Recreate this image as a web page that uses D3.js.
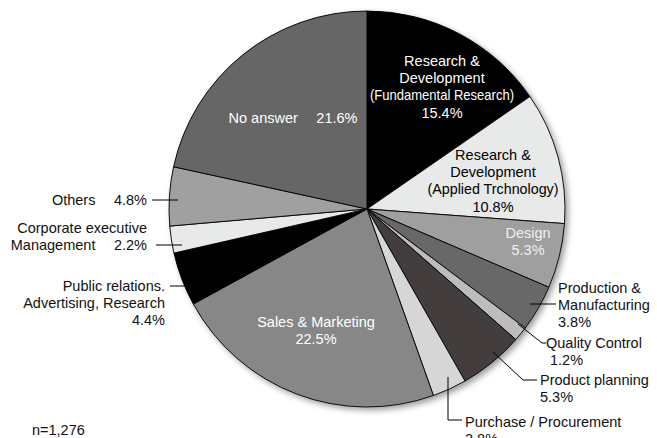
<!DOCTYPE html>
<html><head><meta charset="utf-8">
<script src="https://cdn.jsdelivr.net/npm/d3@7"></script>
<style>body{margin:0;background:#fff}svg{display:block}text{font-family:"Liberation Sans",Arial,sans-serif;font-size:14.5px}</style>
</head><body><svg id="c" width="657" height="438"></svg>
<script>
const categories = ["Research & Development (Fundamental Research)","Research & Development (Applied Trchnology)","Design","Production & Manufacturing","Quality Control","Product planning","Purchase / Procurement","Sales & Marketing","Public relations. Advertising, Research","Corporate executive Management","Others","No answer"];
const values = [15.4,10.8,5.3,3.8,1.2,5.3,2.8,22.5,4.4,2.2,4.8,21.6];
const colors = ["#000000","#e8e9e9","#9f9f9f","#686868","#bcbcbc","#433d3d","#d6d6d6","#878787","#000000","#e8e9e9","#a0a0a0","#666666"];
const sampleNote = "n=1,276";

const svg = d3.select("#c");
const cx = 367, cy = 209, R = 198;
const defs = svg.append("defs");
const f = defs.append("filter").attr("id","sh").attr("x","-20%").attr("y","-20%").attr("width","150%").attr("height","150%");
f.append("feDropShadow").attr("dx",3).attr("dy",3).attr("stdDeviation",3).attr("flood-color","#000").attr("flood-opacity",0.4);

const g = svg.append("g").attr("transform",`translate(${cx},${cy})`);
const pie = d3.pie().sort(null).value(d=>d)(values);
const arc = d3.arc().innerRadius(0).outerRadius(R);
g.append("circle").attr("r",R).attr("fill","#888").attr("filter","url(#sh)");
g.selectAll("path.s").data(pie).join("path").attr("class","s")
 .attr("d",arc).attr("fill",(d,i)=>colors[i]).attr("stroke","#000").attr("stroke-width",0.9);

// inner labels
const inner = [
 {lines:["Research &","Development","(Fundamental Research)","15.4%"], x:442, y:66, fill:"#fff", fit:{2:144}},
 {lines:["Research &","Development","(Applied Trchnology)","10.8%"], x:493, y:160, fill:"#000", fit:{2:131}},
 {lines:["Design","5.3%"], x:528, y:238, fill:"#f0f0f0"},
 {lines:["Sales & Marketing","22.5%"], x:316, y:327, fill:"#fff"},
 {lines:["No answer\u2003 21.6%"], x:293, y:123, fill:"#fff"}
];
inner.forEach(L=>{
  const t = svg.append("text").attr("text-anchor","middle").attr("fill",L.fill);
  L.lines.forEach((s,k)=>{
    const ts = t.append("tspan").attr("x",L.x).attr("y",L.y+k*17.2).text(s);
    if(L.fit && L.fit[k]) ts.attr("textLength",L.fit[k]).attr("lengthAdjust","spacingAndGlyphs");
  });
});

// outer labels with leaders
const outer = [
 {lines:["Others\u2003 4.8%"], x:147, y:205, anchor:"end", leader:[[152,200],[178,200]]},
 {lines:["Corporate executive","Management\u2003 2.2%"], x:147, y:233, anchor:"end", leader:[[156,245],[182,245]]},
 {lines:["Public relations.","Advertising, Research","4.4%"], x:165, y:291, anchor:"end", leader:[[170,286],[188,286]]},
 {lines:["Production &","Manufacturing","3.8%"], x:558, y:293, anchor:"start", leader:[[530,304],[556,304]]},
 {lines:["Quality Control"," 1.2%"], x:546, y:348, anchor:"start", leader:[[518,324],[542,343],[546,343]]},
 {lines:["Product planning","5.3%"], x:540, y:385, anchor:"start", leader:[[493,352],[523,380],[537,380]]},
 {lines:["Purchase / Procurement","2.8%"], x:465, y:427, anchor:"start", leader:[[448,377],[448,420],[462,420]]}
];
outer.forEach(L=>{
  svg.append("path").attr("d",d3.line()(L.leader)).attr("fill","none").attr("stroke","#000").attr("stroke-width",1);
  const t = svg.append("text").attr("text-anchor",L.anchor).attr("fill","#111");
  L.lines.forEach((s,k)=>t.append("tspan").attr("x",L.x).attr("y",L.y+k*17.2).text(s));
});
svg.append("text").attr("x",32).attr("y",435).attr("fill","#111").text(sampleNote);
</script></body></html>
